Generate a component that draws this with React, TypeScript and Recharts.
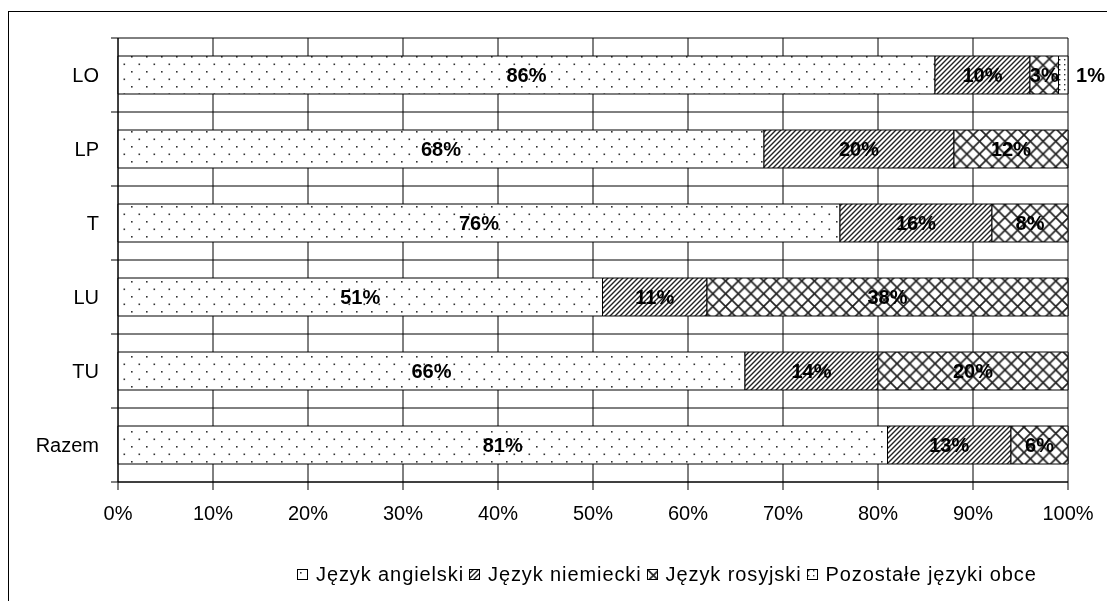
import React from "react"
import { BarChart, Bar, XAxis, YAxis, CartesianGrid, Legend, LabelList } from "recharts"

const categories = ["LO", "LP", "T", "LU", "TU", "Razem"]
const angielski = [86, 68, 76, 51, 66, 81]
const niemiecki = [10, 20, 16, 11, 14, 13]
const rosyjski = [3, 12, 8, 38, 20, 6]
const pozostale = [1, 0, 0, 0, 0, 0]
const xTicks = [0, 10, 20, 30, 40, 50, 60, 70, 80, 90, 100]

const seriesNames: Record<string, string> = {
  angielski: "Język angielski",
  niemiecki: "Język niemiecki",
  rosyjski: "Język rosyjski",
  pozostale: "Pozostałe języki obce",
}
const patternOf: Record<string, string> = {
  angielski: "patDots",
  niemiecki: "patHatch",
  rosyjski: "patCross",
  pozostale: "patFine",
}
const order = ["angielski", "niemiecki", "rosyjski", "pozostale"]

const data = categories.map((c, i) => ({
  name: c,
  angielski: angielski[i],
  niemiecki: niemiecki[i],
  rosyjski: rosyjski[i],
  pozostale: pozostale[i],
}))

const FONT = "Arial, 'Liberation Sans', sans-serif"

function SegLabel(props: any) {
  const { x, y, width, height, value } = props
  if (!value) return null
  return (
    <text x={x + width / 2} y={y + height / 2} textAnchor="middle" dominantBaseline="central"
      fontFamily={FONT} fontSize={20} fontWeight="bold" fill="#000">
      {value}%
    </text>
  )
}

// Excel pushed the tiny 1% label out past the end of the bar
function OutsideLabel(props: any) {
  const { x, y, width, height, value } = props
  if (!value) return null
  return (
    <text x={x + width + 8} y={y + height / 2} textAnchor="start" dominantBaseline="central"
      fontFamily={FONT} fontSize={20} fontWeight="bold" fill="#000">
      {value}%
    </text>
  )
}

function renderLegend() {
  return (
    <div style={{ display: "flex", alignItems: "center", height: 24, fontFamily: FONT, fontSize: 20, letterSpacing: 0.9, color: "#000", whiteSpace: "nowrap" }}>
      {order.map((k) => (
        <div key={k} style={{ display: "flex", alignItems: "center", marginRight: 5 }}>
          <svg width={11} height={11} style={{ marginRight: 8 }}>
            <rect x={0.5} y={0.5} width={10} height={10} fill={`url(#${patternOf[k]})`} stroke="#000" />
          </svg>
          <span>{seriesNames[k]}</span>
        </div>
      ))}
    </div>
  )
}

export default function App() {
  const hLine = (p: any) => (
    <line key={`h-${p.index}-${p.y1}`} x1={p.x1 - 7} y1={p.y1} x2={p.x2} y2={p.y2} stroke="#000" strokeWidth={1} />
  )
  return (
    <div style={{ position: "fixed", left: 8, top: 8, width: 1099, height: 593 }}>
      <div style={{ position: "absolute", left: 0, top: 3, width: 1099, height: 590, borderLeft: "1px solid #000", borderTop: "1px solid #000", boxSizing: "border-box" }} />
      <BarChart width={1099} height={585} data={data} layout="vertical"
        margin={{ top: 30, right: 39, bottom: 71, left: 10 }} barCategoryGap={18}
        style={{ position: "absolute", left: 0, top: 0 }}>
        <defs>
          <pattern id="patDots" width="15" height="15" patternUnits="userSpaceOnUse">
            <rect width="15" height="15" fill="#fff" />
            <rect x="3" y="3" width="1.6" height="1.6" fill="#333" />
            <rect x="10.5" y="10.5" width="1.6" height="1.6" fill="#333" />
          </pattern>
          <pattern id="patHatch" width="5" height="5" patternUnits="userSpaceOnUse">
            <rect width="5" height="5" fill="#fff" />
            <path d="M-1,1 L1,-1 M0,5 L5,0 M4,6 L6,4" stroke="#222" strokeWidth="1.4" />
          </pattern>
          <pattern id="patCross" width="12.7" height="12.7" patternUnits="userSpaceOnUse">
            <rect width="12.7" height="12.7" fill="#fff" />
            <path d="M0,0 L12.7,12.7 M0,12.7 L12.7,0" stroke="#222" strokeWidth="1.7" />
          </pattern>
          <pattern id="patFine" width="5" height="5" patternUnits="userSpaceOnUse">
            <rect width="5" height="5" fill="#fff" />
            <rect x="1" y="1" width="1.4" height="1.4" fill="#333" />
          </pattern>
        </defs>
        <CartesianGrid stroke="#000" strokeWidth={1}
          horizontal={hLine}
          horizontalCoordinatesGenerator={({ offset }: any) =>
            categories.map((_, i) => offset.top + (i * offset.height) / categories.length).concat(offset.top + offset.height)
          } />
        <XAxis type="number" domain={[0, 100]} ticks={xTicks} tickFormatter={(v) => `${v}%`}
          axisLine={{ stroke: "#000" }} tickLine={{ stroke: "#000" }} tickSize={8} tickMargin={16} height={40}
          tick={{ fill: "#000", fontSize: 20, fontFamily: FONT }} interval={0} />
        <YAxis type="category" dataKey="name" width={100} axisLine={{ stroke: "#000" }} tickLine={false}
          tickSize={0} tickMargin={19} tick={{ fill: "#000", fontSize: 20, fontFamily: FONT }} interval={0} />
        <Legend layout="horizontal" verticalAlign="middle" align="center" content={renderLegend}
          wrapperStyle={{ left: 289, top: 554, width: "auto" }} />
        <Bar dataKey="angielski" name={seriesNames.angielski} stackId="a" fill="url(#patDots)" stroke="#000" strokeWidth={1} isAnimationActive={false}>
          <LabelList dataKey="angielski" content={SegLabel} />
        </Bar>
        <Bar dataKey="niemiecki" name={seriesNames.niemiecki} stackId="a" fill="url(#patHatch)" stroke="#000" strokeWidth={1} isAnimationActive={false}>
          <LabelList dataKey="niemiecki" content={SegLabel} />
        </Bar>
        <Bar dataKey="rosyjski" name={seriesNames.rosyjski} stackId="a" fill="url(#patCross)" stroke="#000" strokeWidth={1} isAnimationActive={false}>
          <LabelList dataKey="rosyjski" content={SegLabel} />
        </Bar>
        <Bar dataKey="pozostale" name={seriesNames.pozostale} stackId="a" fill="url(#patFine)" stroke="#000" strokeWidth={1} isAnimationActive={false}>
          <LabelList dataKey="pozostale" content={OutsideLabel} />
        </Bar>
      </BarChart>
    </div>
  )
}
